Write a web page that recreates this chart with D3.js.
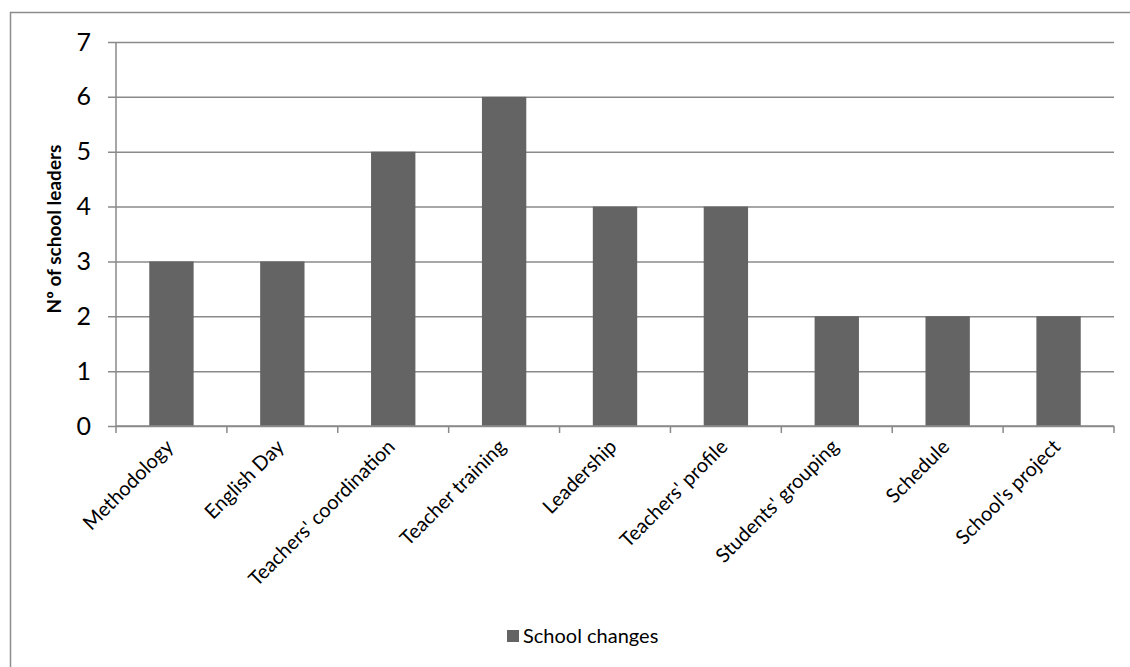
<!DOCTYPE html>
<html>
<head>
<meta charset="utf-8">
<script src="https://cdn.jsdelivr.net/npm/d3@7"></script>
<style>
  body { margin: 0; background: #fff; }
  svg, svg text { font-family: Lato, "Noto Sans", sans-serif; }
</style>
</head>
<body>
<div id="chart"></div>
<script>
// Datos del gráfico
const categories = ["Methodology", "English Day", "Teachers' coordination", "Teacher training",
    "Leadership", "Teachers' profile", "Students' grouping", "Schedule", "School's project"];
const values = [3, 3, 5, 6, 4, 4, 2, 2, 2];
const yTicks = [0, 1, 2, 3, 4, 5, 6, 7];
const seriesName = "School changes";
const yTitle = "Nº of school leaders";

const W = 1130, H = 667;
const margin = { top: 42, right: 16, bottom: 241, left: 116 };
const width = W - margin.left - margin.right;
const height = H - margin.top - margin.bottom;

const svg = d3.select("#chart").append("svg")
    .attr("width", W)
    .attr("height", H);

// Marco exterior
svg.append("rect")
    .attr("x", 10.5).attr("y", 12.5)
    .attr("width", 1200).attr("height", 800)
    .attr("fill", "none")
    .attr("stroke", "#8c8c8c")
    .attr("stroke-width", 1.5);

const g = svg.append("g")
    .attr("transform", `translate(${margin.left}, ${margin.top})`);

// Escalas
const x = d3.scaleBand()
    .domain(categories)
    .range([0, width])
    .paddingInner(0.6)
    .paddingOuter(0.3);

const y = d3.scaleLinear()
    .domain([0, 7])
    .range([height, 0]);

const gridColor = "#8a8a8a";

// Líneas de cuadrícula + eje Y
const yAxis = g.append("g")
    .call(d3.axisLeft(y).tickValues(yTicks).tickSize(-width).tickPadding(25).tickFormat(d3.format("d")));
yAxis.attr("font-family", null);
yAxis.select(".domain").remove();
yAxis.selectAll(".tick line")
    .attr("x1", -8)
    .attr("stroke", gridColor)
    .attr("stroke-width", 1.5);
yAxis.selectAll(".tick text")
    .attr("fill", "#000")
    .style("font-size", "25px");

g.append("line")
    .attr("x1", 0).attr("x2", 0)
    .attr("y1", 0).attr("y2", height)
    .attr("stroke", gridColor)
    .attr("stroke-width", 1.5);

// Barras
g.selectAll(".bar")
    .data(values)
    .enter().append("rect")
    .attr("class", "bar")
    .attr("x", (d, i) => x(categories[i]))
    .attr("y", d => y(d))
    .attr("width", x.bandwidth())
    .attr("height", d => height - y(d))
    .attr("fill", "#646464");

// Eje X
const step = x.step();
const xAxis = g.append("g")
    .attr("transform", `translate(0, ${height})`);
xAxis.append("line")
    .attr("x1", 0).attr("x2", width)
    .attr("stroke", gridColor)
    .attr("stroke-width", 1.5);
xAxis.selectAll(".xtick")
    .data(d3.range(categories.length + 1))
    .enter().append("line")
    .attr("x1", i => i * step).attr("x2", i => i * step)
    .attr("y1", 0).attr("y2", 7)
    .attr("stroke", gridColor)
    .attr("stroke-width", 1.5);

xAxis.selectAll(".xlabel")
    .data(categories)
    .enter().append("text")
    .attr("text-anchor", "end")
    .attr("transform", d => `translate(${x(d) + x.bandwidth() / 2 + 3}, 22) rotate(-45)`)
    .style("font-size", "20px")
    .attr("fill", "#000")
    .text(d => d);

// Título del eje Y
svg.append("text")
    .attr("transform", "translate(61, 229) rotate(-90)")
    .attr("text-anchor", "middle")
    .style("font-size", "19px")
    .style("font-weight", "bold")
    .text(yTitle);

// Leyenda
const legend = svg.append("g").attr("transform", "translate(507, 630)");
legend.append("rect")
    .attr("width", 12).attr("height", 12)
    .attr("fill", "#646464");
legend.append("text")
    .attr("x", 16).attr("y", 13)
    .style("font-size", "20px")
    .text(seriesName);
</script>
</body>
</html>
